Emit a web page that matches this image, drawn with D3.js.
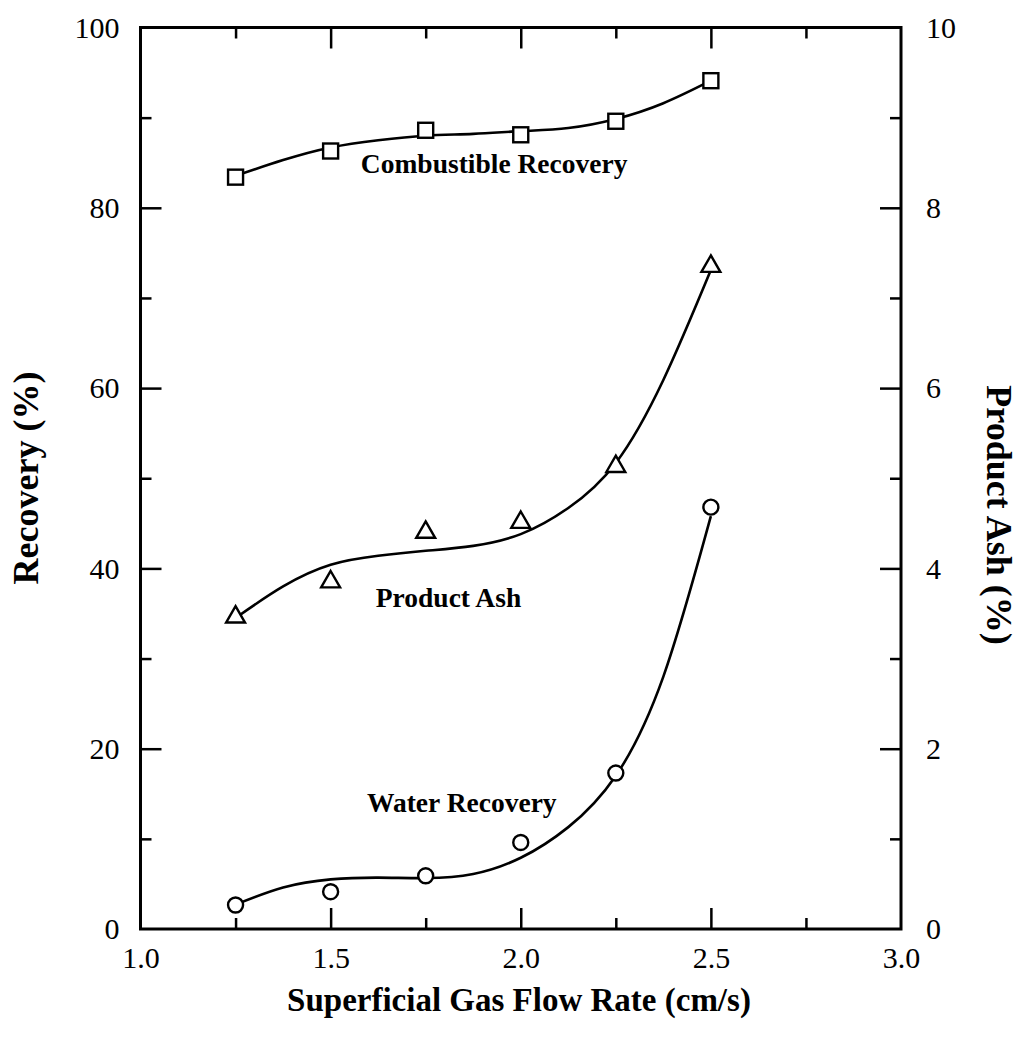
<!DOCTYPE html>
<html>
<head>
<meta charset="utf-8">
<script src="https://cdn.jsdelivr.net/npm/d3@7"></script>
<style>
  html, body { margin: 0; padding: 0; background: #ffffff; }
  svg { display: block; }
  text { font-family: "Liberation Serif", "Times New Roman", serif; fill: #000; }
</style>
</head>
<body>
<div id="chart"></div>
<script>
// Measured flotation results versus superficial gas flow rate
const flowRate = [1.25, 1.5, 1.75, 2.0, 2.25, 2.5];
const combustibleRecovery = [83.4, 86.3, 88.6, 88.1, 89.6, 94.1]; // %
const productAsh = [3.46, 3.85, 4.40, 4.51, 5.13, 7.35];           // % (right axis)
const waterRecovery = [2.66, 4.14, 5.9, 9.6, 17.3, 46.8];          // %

// Smoothed trend curves through each series
const fitFlowRate = [1.25, 1.375, 1.5, 1.625, 1.75, 1.875, 2.0, 2.125, 2.25, 2.375, 2.5];
const combustibleFit = [83.55, 85.3, 86.7, 87.5, 88.0, 88.2, 88.5, 88.85, 89.85, 91.6, 94.1];
const productAshFit = [3.45, 3.80, 4.04, 4.14, 4.195, 4.25, 4.38, 4.67, 5.17, 6.09, 7.31];
const waterFit = [2.7, 4.6, 5.5, 5.7, 5.65, 6.1, 7.9, 11.3, 17.0, 28.0, 45.8];

// Axis ticks
const xMajorTicks = [1.0, 1.5, 2.0, 2.5, 3.0];
const xMinorTicks = [1.25, 1.75, 2.25, 2.75];
const yLeftMajorTicks = [0, 20, 40, 60, 80, 100];
const yLeftMinorTicks = [10, 30, 50, 70, 90];
const yRightMajorTicks = [0, 2, 4, 6, 8, 10];
const yRightMinorTicks = [1, 3, 5, 7, 9];

const seriesLabels = ["Combustible Recovery", "Product Ash", "Water Recovery"];
const xTitle = "Superficial Gas Flow Rate (cm/s)";
const yLeftTitle = "Recovery (%)";
const yRightTitle = "Product Ash (%)";

const W = 1021, H = 1043;
const plot = { left: 140.5, right: 901, top: 27.5, bottom: 929 };

const svg = d3.select("#chart").append("svg")
  .attr("width", W).attr("height", H);

const x = d3.scaleLinear().domain([1.0, 3.0]).range([plot.left, plot.right]);
const y = d3.scaleLinear().domain([0, 100]).range([plot.bottom, plot.top]);
const yAsh = d3.scaleLinear().domain([0, 10]).range([plot.bottom, plot.top]);

const fmt1 = d3.format(".1f");
const MAJOR = 21, MINOR = 11, TICK_FONT = 30;

function styleAxis(g) {
  g.select(".domain").remove();
  g.selectAll(".tick line").attr("stroke", "#000").attr("stroke-width", 2.5);
  g.selectAll(".tick text")
    .style("font-family", '"Liberation Serif", "Times New Roman", serif')
    .style("font-size", TICK_FONT + "px")
    .attr("fill", "#000");
}

// Bottom axis
svg.append("g").attr("transform", `translate(0,${plot.bottom})`)
  .call(d3.axisBottom(x).tickValues(xMajorTicks).tickFormat(fmt1)
    .tickSizeInner(-MAJOR).tickSizeOuter(0).tickPadding(18))
  .call(styleAxis)
  .call(g => g.selectAll(".tick line").filter(d => d === 1.0 || d === 3.0).remove());
svg.append("g").attr("transform", `translate(0,${plot.bottom})`)
  .call(d3.axisBottom(x).tickValues(xMinorTicks).tickFormat("")
    .tickSizeInner(-MINOR).tickSizeOuter(0))
  .call(styleAxis);

// Top axis (ticks only)
svg.append("g").attr("transform", `translate(0,${plot.top})`)
  .call(d3.axisTop(x).tickValues(xMajorTicks.slice(1, -1)).tickFormat("")
    .tickSizeInner(-MAJOR).tickSizeOuter(0))
  .call(styleAxis);
svg.append("g").attr("transform", `translate(0,${plot.top})`)
  .call(d3.axisTop(x).tickValues(xMinorTicks).tickFormat("")
    .tickSizeInner(-MINOR).tickSizeOuter(0))
  .call(styleAxis);

// Left axis
svg.append("g").attr("transform", `translate(${plot.left},0)`)
  .call(d3.axisLeft(y).tickValues(yLeftMajorTicks).tickFormat(d3.format("d"))
    .tickSizeInner(-MAJOR).tickSizeOuter(0).tickPadding(21))
  .call(styleAxis)
  .call(g => g.selectAll(".tick line").filter(d => d === 0 || d === 100).remove());
svg.append("g").attr("transform", `translate(${plot.left},0)`)
  .call(d3.axisLeft(y).tickValues(yLeftMinorTicks).tickFormat("")
    .tickSizeInner(-MINOR).tickSizeOuter(0))
  .call(styleAxis);

// Right axis (product ash)
svg.append("g").attr("transform", `translate(${plot.right},0)`)
  .call(d3.axisRight(yAsh).tickValues(yRightMajorTicks).tickFormat(d3.format("d"))
    .tickSizeInner(-MAJOR).tickSizeOuter(0).tickPadding(25))
  .call(styleAxis)
  .call(g => g.selectAll(".tick line").filter(d => d === 0 || d === 10).remove());
svg.append("g").attr("transform", `translate(${plot.right},0)`)
  .call(d3.axisRight(yAsh).tickValues(yRightMinorTicks).tickFormat("")
    .tickSizeInner(-MINOR).tickSizeOuter(0))
  .call(styleAxis);

// Plot frame
svg.append("rect")
  .attr("x", plot.left).attr("y", plot.top)
  .attr("width", plot.right - plot.left).attr("height", plot.bottom - plot.top)
  .attr("fill", "none").attr("stroke", "#000").attr("stroke-width", 3);

// Trend curves
const line = (yScale) => d3.line()
  .x(d => x(d[0])).y(d => yScale(d[1]))
  .curve(d3.curveNatural);

const curves = [
  { vals: combustibleFit, scale: y },
  { vals: productAshFit, scale: yAsh },
  { vals: waterFit, scale: y }
];
curves.forEach(c => {
  svg.append("path")
    .datum(fitFlowRate.map((f, i) => [f, c.vals[i]]))
    .attr("d", line(c.scale))
    .attr("fill", "none").attr("stroke", "#000")
    .attr("stroke-width", 2.6).attr("stroke-linejoin", "round");
});

// Markers
const markerStroke = 2.4;
svg.append("g").selectAll("rect")
  .data(flowRate.map((f, i) => [f, combustibleRecovery[i]]))
  .join("rect")
  .attr("x", d => x(d[0]) - 7.5).attr("y", d => y(d[1]) - 7.5)
  .attr("width", 15).attr("height", 15)
  .attr("fill", "#fff").attr("stroke", "#000").attr("stroke-width", markerStroke);

const tri = d3.symbol().type(d3.symbolTriangle).size(155);
svg.append("g").selectAll("path")
  .data(flowRate.map((f, i) => [f, productAsh[i]]))
  .join("path")
  .attr("d", tri)
  .attr("transform", d => `translate(${x(d[0])},${yAsh(d[1])})`)
  .attr("fill", "#fff").attr("stroke", "#000").attr("stroke-width", markerStroke);

svg.append("g").selectAll("circle")
  .data(flowRate.map((f, i) => [f, waterRecovery[i]]))
  .join("circle")
  .attr("cx", d => x(d[0])).attr("cy", d => y(d[1]))
  .attr("r", 7.5)
  .attr("fill", "#fff").attr("stroke", "#000").attr("stroke-width", markerStroke);

// Series labels
const labelPos = [
  { text: seriesLabels[0], fx: 1.93, val: 83.85, scale: y },
  { text: seriesLabels[1], fx: 1.81, val: 3.575, scale: yAsh },
  { text: seriesLabels[2], fx: 1.845, val: 13.0, scale: y }
];
labelPos.forEach(l => {
  svg.append("text")
    .attr("x", x(l.fx)).attr("y", l.scale(l.val))
    .attr("text-anchor", "middle")
    .style("font-size", "27.5px").style("font-weight", "bold")
    .text(l.text);
});

// Axis titles
svg.append("text")
  .attr("x", 519).attr("y", 1011)
  .attr("text-anchor", "middle")
  .style("font-size", "33px").style("font-weight", "bold")
  .text(xTitle);

svg.append("text")
  .attr("transform", `translate(38,478) rotate(-90)`)
  .attr("text-anchor", "middle")
  .style("font-size", "36px").style("font-weight", "bold")
  .text(yLeftTitle);

svg.append("text")
  .attr("transform", `translate(987,515) rotate(90)`)
  .attr("text-anchor", "middle")
  .style("font-size", "36px").style("font-weight", "bold")
  .text(yRightTitle);
</script>
</body>
</html>
